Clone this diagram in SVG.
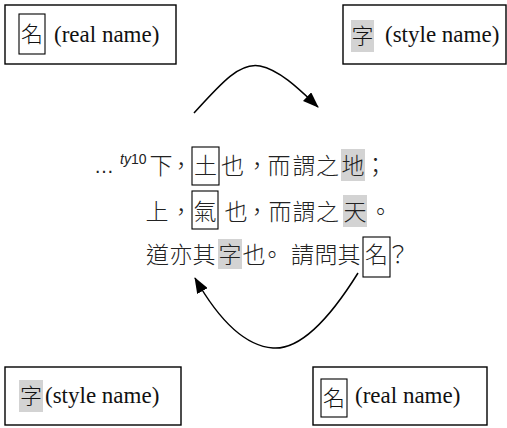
<svg xmlns="http://www.w3.org/2000/svg" width="507" height="428" viewBox="0 0 507 428">
<style>
.frame{fill:#fff;stroke:#000;stroke-width:1.4}
.ibox{fill:none;stroke:#000;stroke-width:1.1}
.hl{fill:#d3d3d3;stroke:none}
.lat{font-family:"Liberation Serif","Times New Roman",serif;font-size:23px;fill:#111}
.cjk{font-family:"Noto Sans CJK TC","Noto Sans CJK SC",sans-serif;font-size:22px;font-weight:300;fill:#111;text-anchor:middle}
.main{font-family:"Noto Sans CJK TC","Noto Sans CJK SC",sans-serif;font-size:23px;font-weight:300;fill:#222;text-anchor:middle}
.sup{font-family:"Liberation Sans",Arial,sans-serif;font-size:14px;fill:#222}
.ell{font-family:"Liberation Sans",Arial,sans-serif;font-size:20px;fill:#222}
.conn{fill:none;stroke:#000;stroke-width:1.5}
</style>
<defs>
<marker id="ah" viewBox="0 0 16 12" refX="15" refY="6" markerWidth="16" markerHeight="12" markerUnits="userSpaceOnUse" orient="auto">
<path d="M0,0 L16,6 L0,12 Z" fill="#000"/>
</marker>
</defs>
<rect width="507" height="428" fill="#fff"/>

<g id="node-top-left">
<rect class="frame" x="5" y="5" width="171" height="59"/>
<rect class="ibox" x="19" y="14" width="26" height="40"/>
<text class="cjk" x="32" y="42">名</text>
<text class="lat" x="54" y="42">(real name)</text>
</g>

<g id="node-top-right">
<rect class="frame" x="343" y="5" width="163" height="59"/>
<rect class="hl" x="351" y="20" width="23" height="32"/>
<text class="cjk" x="362.5" y="44">字</text>
<text class="lat" x="385" y="42">(style name)</text>
</g>

<g id="node-bottom-left">
<rect class="frame" x="5" y="367" width="176" height="58"/>
<rect class="hl" x="19" y="380" width="24" height="32"/>
<text class="cjk" x="31" y="404">字</text>
<text class="lat" x="45" y="403">(style name)</text>
</g>

<g id="node-bottom-right">
<rect class="frame" x="313" y="367" width="174" height="58"/>
<rect class="ibox" x="321" y="379" width="26" height="38"/>
<text class="cjk" x="334" y="406">名</text>
<text class="lat" x="355" y="403">(real name)</text>
</g>

<g id="node-text">
<rect class="hl" x="341" y="149" width="24" height="32"/>
<rect class="hl" x="343" y="195" width="24" height="32"/>
<rect class="hl" x="218" y="239" width="24" height="30"/>
<rect class="ibox" x="192" y="147" width="27" height="38"/>
<rect class="ibox" x="192" y="191" width="26" height="38"/>
<rect class="ibox" x="363" y="237" width="27" height="40"/>
<text class="ell" x="94" y="173">…</text>
<text class="sup" x="120" y="164"><tspan font-style="italic">ty</tspan>10</text>
<text class="main" y="174" x="161 181 205.5 232.5 257 279 304 327.5 353 375.5">下，土也，而謂之地；</text>
<text class="main" y="220" x="157 181 205 236 257 280 304 327.5 355 380.5">上，氣也，而謂之天。</text>
<text class="main" y="263" x="157.5 181 204 230 254 272 302.5 326 349 376.5 398">道亦其字也。請問其名？</text>
</g>

<g id="connectors">
<path class="conn" d="M194,113 C222,82 240,62 260,66 C280,70 300,90 318,107" marker-end="url(#ah)"/>
<path class="conn" d="M358,273 C330,318 300,350 273,348 C245,346 220,322 195,278" marker-end="url(#ah)"/>
</g>
</svg>
